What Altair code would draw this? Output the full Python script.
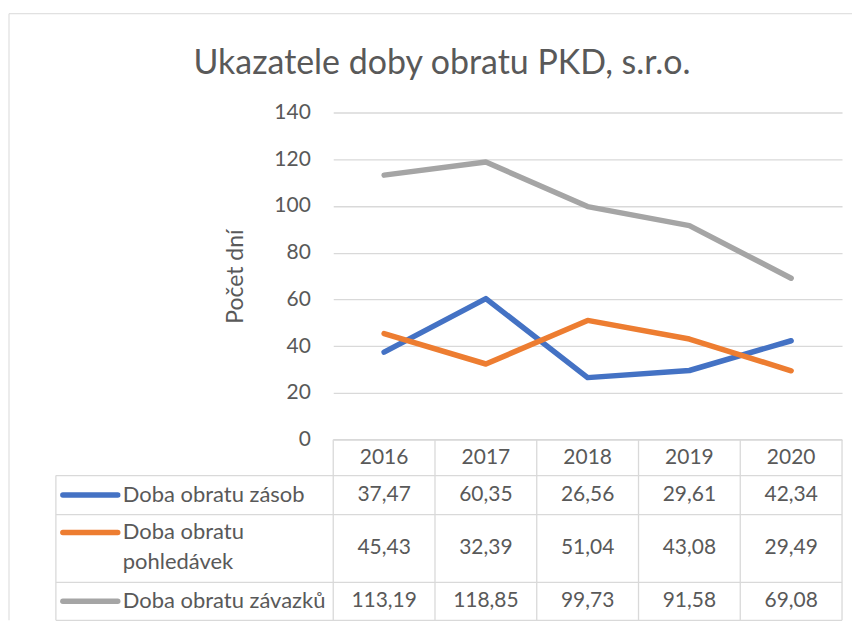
import altair as alt
import pandas as pd

# ---- data ----
years = ["2016", "2017", "2018", "2019", "2020"]
series = ["Doba obratu zásob", "Doba obratu pohledávek", "Doba obratu závazků"]
table_labels = ["Doba obratu zásob", "Doba obratu\npohledávek", "Doba obratu závazků"]
zasob = [37.47, 60.35, 26.56, 29.61, 42.34]
pohledavek = [45.43, 32.39, 51.04, 43.08, 29.49]
zavazku = [113.19, 118.85, 99.73, 91.58, 69.08]
y_ticks = [0, 20, 40, 60, 80, 100, 120, 140]
colors = ["#4472C4", "#ED7D31", "#A5A5A5"]

values = [zasob, pohledavek, zavazku]

# ---- layout constants ----
W = 510
PLOT_H = 328
TABLE_H = 181
ROW_EDGES = [0, 36, 75, 143, 181]      # header, row1, row2, row3 (px within table)
ROW_CENTERS = [18, 55.5, 109, 162]
MARKER_Y = [55.5, 93, 162]
COL_PX = W / len(years)
LABEL_COL_PX = 278
MARK_X0_PX, MARK_X1_PX, TEXT_X_PX = 271, 216, 211
FONT = "Lato"
TXT = "#595959"
GRID = "#D9D9D9"

ncol = len(years)
L = -LABEL_COL_PX / COL_PX

line_df = pd.DataFrame(
    [{"year": y, "series": s, "value": v}
     for s, vals in zip(series, values) for y, v in zip(years, vals)]
)

# table rules
rules = [{"x1": 0, "x2": ncol, "y1": ROW_EDGES[0], "y2": ROW_EDGES[0]}]
for e in ROW_EDGES[1:]:
    rules.append({"x1": L, "x2": ncol, "y1": e, "y2": e})
for i in range(ncol + 1):
    rules.append({"x1": i, "x2": i, "y1": ROW_EDGES[0], "y2": ROW_EDGES[-1]})
rules.append({"x1": L, "x2": L, "y1": ROW_EDGES[1], "y2": ROW_EDGES[-1]})
rules_df = pd.DataFrame(rules)

header_df = pd.DataFrame({"x": [i + 0.5 for i in range(ncol)],
                          "y": [ROW_CENTERS[0]] * ncol, "t": years})
cells = []
for r, (s, vals) in enumerate(zip(series, values)):
    for i, v in enumerate(vals):
        cells.append({"x": i + 0.5, "y": ROW_CENTERS[r + 1],
                      "t": f"{v:.2f}".replace(".", ",")})
cells_df = pd.DataFrame(cells)

markers_df = pd.DataFrame({
    "series": series,
    "x1": [-MARK_X0_PX / COL_PX] * 3,
    "x2": [-MARK_X1_PX / COL_PX] * 3,
    "y": MARKER_Y,
})
labels_df = pd.DataFrame({
    "x": [-TEXT_X_PX / COL_PX] * 3,
    "y": MARKER_Y,
    "t": table_labels,
})

tx = alt.Scale(domain=[0, ncol], range=[0, W])
ty = alt.Scale(domain=[0, TABLE_H], range=[PLOT_H, PLOT_H + TABLE_H])
color_scale = alt.Scale(domain=series, range=colors)

lines = alt.Chart(line_df).mark_line(
    strokeWidth=5.5, strokeCap="round", strokeJoin="round"
).encode(
    x=alt.X("year:O", sort=years, scale=alt.Scale(type="point", padding=0.5), axis=None),
    y=alt.Y(
        "value:Q",
        scale=alt.Scale(domain=[0, 140], range=[PLOT_H, 0]),
        axis=alt.Axis(
            values=y_ticks, grid=True, gridColor=GRID, gridWidth=1.3,
            domain=False, ticks=False, labelPadding=23,
            labelFont=FONT, labelFontSize=21, labelColor=TXT,
            title="Počet dní", titleFont=FONT, titleFontSize=23,
            titleFontWeight="normal", titleColor=TXT, titlePadding=26,
        ),
    ),
    color=alt.Color("series:N", scale=color_scale, legend=None),
)

table_rules = alt.Chart(rules_df).mark_rule(color=GRID, strokeWidth=1.3).encode(
    x=alt.X("x1:Q", scale=tx, axis=None),
    x2="x2:Q",
    y=alt.Y("y1:Q", scale=ty, axis=None),
    y2="y2:Q",
)

header = alt.Chart(header_df).mark_text(
    font=FONT, fontSize=21, color=TXT, baseline="middle", align="center"
).encode(
    x=alt.X("x:Q", scale=tx, axis=None),
    y=alt.Y("y:Q", scale=ty, axis=None),
    text="t:N",
)

cell_text = alt.Chart(cells_df).mark_text(
    font=FONT, fontSize=21, color=TXT, baseline="middle", align="center"
).encode(
    x=alt.X("x:Q", scale=tx, axis=None),
    y=alt.Y("y:Q", scale=ty, axis=None),
    text="t:N",
)

markers = alt.Chart(markers_df).mark_rule(strokeWidth=5.5, strokeCap="round").encode(
    x=alt.X("x1:Q", scale=tx, axis=None),
    x2="x2:Q",
    y=alt.Y("y:Q", scale=ty, axis=None),
    color=alt.Color("series:N", scale=color_scale, legend=None),
)

label_text = alt.Chart(labels_df).mark_text(
    font=FONT, fontSize=22, color=TXT, baseline="middle", align="left",
    lineBreak="\n", lineHeight=30,
).encode(
    x=alt.X("x:Q", scale=tx, axis=None),
    y=alt.Y("y:Q", scale=ty, axis=None),
    text="t:N",
)

frame_left = alt.Chart(pd.DataFrame({"a": [0]})).mark_rule(color=GRID, strokeWidth=1).encode(
    x=alt.value(-325), y=alt.value(-99), y2=alt.value(PLOT_H + TABLE_H)
)
frame_top = alt.Chart(pd.DataFrame({"a": [0]})).mark_rule(color=GRID, strokeWidth=1).encode(
    x=alt.value(-325), x2=alt.value(520), y=alt.value(-99)
)

chart = alt.layer(
    frame_left, frame_top, table_rules, lines, header, cell_text, markers, label_text
).resolve_scale(
    x="independent", y="independent", color="shared"
).properties(
    width=W,
    height=PLOT_H + TABLE_H,
    padding={"left": 0, "top": 4, "right": 0, "bottom": 0},
    title=alt.TitleParams(
        "Ukazatele doby obratu PKD, s.r.o.", font=FONT, fontSize=34,
        fontWeight="normal", color=TXT, anchor="middle", frame="group",
        dx=-146, dy=72,
    ),
).configure_view(stroke=None)

chart.save("out.html", embed_options={"renderer": "svg", "actions": False})
